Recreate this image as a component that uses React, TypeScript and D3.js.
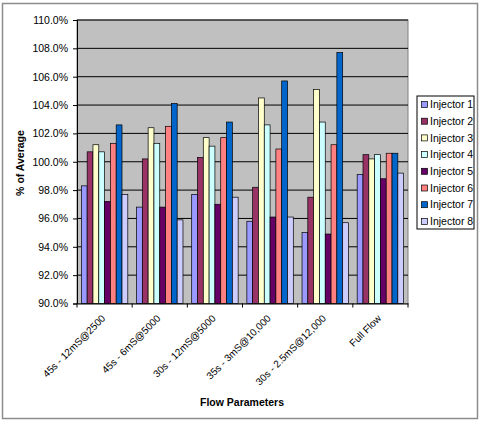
import { useEffect, useRef } from "react"
import * as d3 from "d3"

const categories = [
  "45s - 12mS@2500",
  "45s - 6mS@5000",
  "30s - 12mS@5000",
  "35s - 3mS@10,000",
  "30s - 2.5mS@12,000",
  "Full Flow",
]

const seriesNames = [
  "Injector 1",
  "Injector 2",
  "Injector 3",
  "Injector 4",
  "Injector 5",
  "Injector 6",
  "Injector 7",
  "Injector 8",
]

const injector1 = [98.3, 96.8, 97.7, 95.8, 95.0, 99.1]
const injector2 = [100.7, 100.2, 100.3, 98.2, 97.5, 100.5]
const injector3 = [101.2, 102.4, 101.7, 104.5, 105.1, 100.2]
const injector4 = [100.7, 101.3, 101.1, 102.6, 102.8, 100.5]
const injector5 = [97.2, 96.8, 97.0, 96.1, 94.9, 98.8]
const injector6 = [101.3, 102.5, 101.7, 100.9, 101.2, 100.6]
const injector7 = [102.6, 104.1, 102.8, 105.7, 107.7, 100.6]
const injector8 = [97.7, 95.9, 97.5, 96.1, 95.7, 99.2]

const seriesValues = [injector1, injector2, injector3, injector4, injector5, injector6, injector7, injector8]

const colors = ["#9999FF", "#993366", "#FFFFCC", "#CCFFFF", "#660066", "#FF8080", "#0066CC", "#CCCCFF"]

const yTicks = [90, 92, 94, 96, 98, 100, 102, 104, 106, 108, 110]

export default function App() {
  const svgRef = useRef<SVGSVGElement>(null)

  useEffect(() => {
    const svg = d3.select(svgRef.current)
    svg.selectAll("*").remove()

    const width = 482
    const height = 424
    const plot = { left: 77, right: 408, top: 20, bottom: 303.5 }
    const font = "Arial, 'Liberation Sans', sans-serif"

    // chart frame
    svg.append("rect").attr("width", width).attr("height", height).attr("fill", "#fff")
    svg
      .append("rect")
      .attr("x", 2.5)
      .attr("y", 3.5)
      .attr("width", 475)
      .attr("height", 415)
      .attr("fill", "#fff")
      .attr("stroke", "#8c8c8c")
      .attr("stroke-width", 1.5)

    const x0 = d3.scaleBand<string>().domain(categories).range([plot.left, plot.right]).paddingInner(0).paddingOuter(0)
    const groupPad = (x0.bandwidth() / (8 + 1.5)) * 0.75
    const x1 = d3
      .scaleBand<string>()
      .domain(seriesNames)
      .range([groupPad, x0.bandwidth() - groupPad])
      .padding(0)

    const y = d3.scaleLinear().domain([90, 110]).range([plot.bottom, plot.top])

    // plot area
    svg
      .append("rect")
      .attr("x", plot.left)
      .attr("y", plot.top)
      .attr("width", plot.right - plot.left)
      .attr("height", plot.bottom - plot.top)
      .attr("fill", "#C0C0C0")
      .attr("stroke", "#808080")

    // grid lines
    svg
      .append("g")
      .selectAll("line")
      .data(yTicks.slice(1))
      .enter()
      .append("line")
      .attr("x1", plot.left)
      .attr("x2", plot.right)
      .attr("y1", (d) => y(d))
      .attr("y2", (d) => y(d))
      .attr("stroke", "#000")
      .attr("stroke-width", 1)

    // bars
    const groups = svg
      .append("g")
      .selectAll("g")
      .data(categories)
      .enter()
      .append("g")
      .attr("transform", (d) => `translate(${x0(d)},0)`)

    groups
      .selectAll("rect")
      .data((_, i) => seriesValues.map((vals, s) => ({ s, v: vals[i] })))
      .enter()
      .append("rect")
      .attr("x", (d) => x1(seriesNames[d.s]) as number)
      .attr("width", x1.bandwidth())
      .attr("y", (d) => y(d.v))
      .attr("height", (d) => y(90) - y(d.v))
      .attr("fill", (d) => colors[d.s])
      .attr("stroke", "#000")
      .attr("stroke-width", 0.7)

    // y axis
    const yAxis = svg
      .append("g")
      .attr("transform", `translate(${plot.left},0)`)
      .call(
        d3
          .axisLeft(y)
          .tickValues(yTicks)
          .tickSize(4)
          .tickPadding(5)
          .tickFormat((d) => `${(+d).toFixed(1)}%`),
      )
    yAxis.select(".domain").attr("stroke", "#000")
    yAxis.selectAll("line").attr("stroke", "#000")
    yAxis.selectAll("text").attr("font-family", font).attr("font-size", 10.5).attr("fill", "#000")

    // x axis
    const xAxis = svg
      .append("g")
      .attr("transform", `translate(0,${plot.bottom})`)
      .call(d3.axisBottom(x0).tickSize(0).tickFormat(() => ""))
    xAxis.select(".domain").attr("stroke", "#000")

    svg
      .append("g")
      .selectAll("line")
      .data(d3.range(categories.length + 1))
      .enter()
      .append("line")
      .attr("x1", (i) => plot.left + i * x0.bandwidth())
      .attr("x2", (i) => plot.left + i * x0.bandwidth())
      .attr("y1", plot.bottom)
      .attr("y2", plot.bottom + 4)
      .attr("stroke", "#000")

    svg
      .append("g")
      .selectAll("text")
      .data(categories)
      .enter()
      .append("text")
      .attr("transform", (d) => `translate(${(x0(d) as number) + x0.bandwidth() / 2 - 1},${plot.bottom + 13}) rotate(-45)`)
      .attr("text-anchor", "end")
      .attr("dy", "0.35em")
      .attr("font-family", font)
      .attr("font-size", 10)
      .attr("fill", "#000")
      .text((d) => d)

    // axis titles
    svg
      .append("text")
      .attr("transform", `translate(24,163) rotate(-90)`)
      .attr("text-anchor", "middle")
      .attr("font-family", font)
      .attr("font-size", 10.5)
      .attr("font-weight", "bold")
      .text("% of Average")

    svg
      .append("text")
      .attr("x", 242)
      .attr("y", 406)
      .attr("text-anchor", "middle")
      .attr("font-family", font)
      .attr("font-size", 10.5)
      .attr("font-weight", "bold")
      .text("Flow Parameters")

    // legend
    const legend = svg.append("g").attr("transform", "translate(417,96)")
    legend
      .append("rect")
      .attr("width", 57)
      .attr("height", 133)
      .attr("fill", "#fff")
      .attr("stroke", "#000")
      .attr("stroke-width", 1)

    const items = legend
      .selectAll("g")
      .data(seriesNames)
      .enter()
      .append("g")
      .attr("transform", (_, i) => `translate(0,${8.5 + i * 16.7})`)

    items
      .append("rect")
      .attr("x", 4.5)
      .attr("y", -3)
      .attr("width", 6)
      .attr("height", 6)
      .attr("fill", (_, i) => colors[i])
      .attr("stroke", "#000")
      .attr("stroke-width", 0.7)

    items
      .append("text")
      .attr("x", 13)
      .attr("dy", "0.36em")
      .attr("font-family", font)
      .attr("font-size", 10.5)
      .attr("fill", "#000")
      .text((d) => d)
  }, [])

  return (
    <svg
      ref={svgRef}
      width={482}
      height={424}
      style={{ position: "absolute", left: 0, top: 0, display: "block" }}
    />
  )
}
